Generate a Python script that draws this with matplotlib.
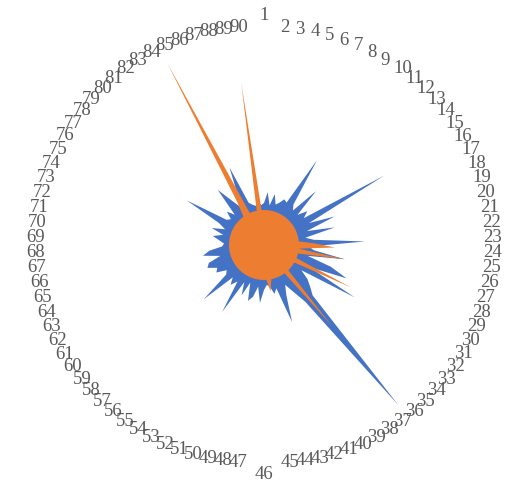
import numpy as np
import matplotlib.pyplot as plt

# 90 categories, values (axis max = 218)
categorias = [str(i) for i in range(1, 91)]

serie_azul = [
    42, 53, 40, 52, 42, 45, 50, 48, 100, 50,
    45, 75, 45, 55, 48, 139, 50, 76, 45, 73,
    42, 50, 101, 45, 50, 82, 45, 70, 89, 50,
    105, 45, 55, 62, 70, 209, 70, 55, 45, 55,
    82, 45, 50, 42, 40, 45, 58, 42, 53, 58,
    40, 55, 42, 79, 45, 52, 45, 81, 48, 45,
    55, 52, 61, 58, 45, 62, 55, 42, 40, 45,
    52, 42, 55, 42, 50, 89, 45, 42, 50, 42,
    72, 55, 45, 55, 85, 45, 42, 40, 45, 40,
]

serie_naranja = [35] * 90
picos_naranja = {23: 50, 24: 71, 26: 82, 30: 96, 36: 105, 44: 47, 83: 50, 84: 206, 89: 163}
for k, v in picos_naranja.items():
    serie_naranja[k - 1] = v

r_max = 218

# geometry in pixels
W, H, DPI = 506, 486, 100
cx, cy = 264, 245

fig = plt.figure(figsize=(W / DPI, H / DPI), dpi=DPI)
ax = fig.add_axes([(cx - r_max) / W, (H - cy - r_max) / H, 2 * r_max / W, 2 * r_max / H],
                  projection="polar")
ax.set_theta_zero_location("N")
ax.set_theta_direction(-1)

n = len(categorias)
theta = np.arange(n) * 2 * np.pi / n
theta_c = np.append(theta, theta[0])

azul = np.append(serie_azul, serie_azul[0])
naranja = np.append(serie_naranja, serie_naranja[0])

ax.fill(theta_c, azul, color="#4472C4", linewidth=0)
ax.fill(theta_c, naranja, color="#ED7D31", linewidth=0)

ax.set_ylim(0, r_max)
ax.set_xticks([])
ax.set_yticks([])
ax.grid(False)
ax.spines["polar"].set_visible(False)
ax.patch.set_alpha(0)

# category labels around the outside, Excel style
pt = 72 / DPI
for i, (t, lab) in enumerate(zip(theta, categorias)):
    ang = i * 360 / n
    if ang == 0:
        ha, va, off = "center", "bottom", (0, 3)
    elif ang == 180:
        ha, va, off = "center", "top", (0, -3)
    elif ang < 180:
        ha, va, off = "left", "center", (1, 0)
    else:
        ha, va, off = "right", "center", (-1, 0)
    ax.annotate(lab, xy=(t, r_max), xytext=(off[0] * pt, off[1] * pt),
                textcoords="offset points", ha=ha, va=va,
                fontsize=13.5, family="Liberation Serif", color="#595959",
                annotation_clip=False)

fig.savefig("out.png", dpi=DPI)
